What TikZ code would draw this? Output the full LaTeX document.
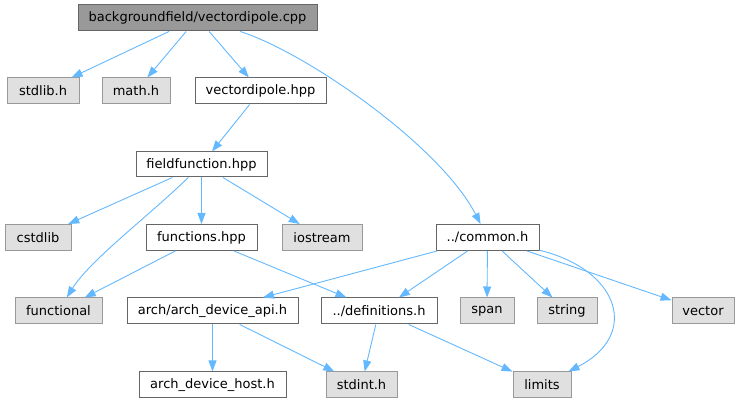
\documentclass[tikz,border=0pt]{standalone}
\usepackage{fontspec}
\setmainfont{DejaVu Sans}
\usetikzlibrary{arrows.meta}
\definecolor{dxblue}{HTML}{63B8FF}
\definecolor{dxdark}{HTML}{666666}
\definecolor{dxmid}{HTML}{999999}
\definecolor{dxlight}{HTML}{E0E0E0}

\begin{document}
\begin{tikzpicture}[x=1pt, y=-1pt,
  file/.style={draw=dxdark, fill=white, line width=1pt, font=\fontsize{13}{15}\selectfont,
    minimum height=26, inner xsep=0pt, inner ysep=0pt},
  sys/.style={file, draw=dxmid, fill=dxlight},
  top/.style={file, fill=dxmid},
  dep/.style={-{Triangle[length=11pt, width=8pt]}, line width=0.9pt, dxblue}]
\useasboundingbox (0,0) rectangle (740,403);
% Row 0
\node[top, minimum width=239] (vdcpp) at (197.5,18) {backgroundfield/vectordipole.cpp};
% Row 1
\node[sys, minimum width=72] (stdlib) at (43,91) {stdlib.h};
\node[sys, minimum width=68] (math) at (136,91) {math.h};
\node[file, minimum width=131] (vdhpp) at (260.5,91) {vectordipole.hpp};
% Row 2
\node[file, minimum width=131, minimum height=25] (ffun) at (201.5,164.5) {fieldfunction.hpp};
% Row 3
\node[sys, minimum width=66] (cstdlib) at (38,237.5) {cstdlib};
\node[file, minimum width=111] (funcs) at (201.5,237.5) {functions.hpp};
\node[sys, minimum width=80] (iostream) at (322,237.5) {iostream};
\node[file, minimum width=103] (common) at (487.5,237.5) {../common.h};
% Row 4
\node[sys, minimum width=87] (functional) at (58.5,311) {functional};
\node[file, minimum width=171] (archapi) at (212.5,311) {arch/arch\_device\_api.h};
\node[file, minimum width=116] (defs) at (379,311) {../definitions.h};
\node[sys, minimum width=54] (span) at (487,311) {span};
\node[sys, minimum width=60] (string) at (567,311) {string};
\node[sys, minimum width=62] (vector) at (703,311) {vector};
% Row 5
\node[file, minimum width=147] (archhost) at (212.5,385) {arch\_device\_host.h};
\node[sys, minimum width=71] (stdint) at (361.5,385) {stdint.h};
\node[sys, minimum width=58] (limits) at (542,385) {limits};
% Edges
\draw[dep] (vdcpp) -- (stdlib);
\draw[dep] (vdcpp) -- (math);
\draw[dep] (vdcpp) -- (vdhpp);
\draw[dep] (vdcpp) .. controls (305,52) and (440,145) .. (common);
\draw[dep] (vdhpp) -- (ffun);
\draw[dep] (ffun) -- (cstdlib);
\draw[dep] (ffun) .. controls (150,215) and (90,260) .. (functional);
\draw[dep] (ffun) -- (funcs);
\draw[dep] (ffun) -- (iostream);
\draw[dep] (funcs) -- (functional);
\draw[dep] (funcs) -- (defs);
\draw[dep] (common) -- (archapi);
\draw[dep] (common) -- (defs);
\draw[dep] (common) -- (span);
\draw[dep] (common) -- (string);
\draw[dep] (common) -- (vector);
\draw[dep] (common) .. controls (620,270) and (640,335) .. (limits);
\draw[dep] (archapi) -- (archhost);
\draw[dep] (archapi) -- (stdint);
\draw[dep] (defs) -- (stdint);
\draw[dep] (defs) -- (limits);
\end{tikzpicture}
\end{document}
